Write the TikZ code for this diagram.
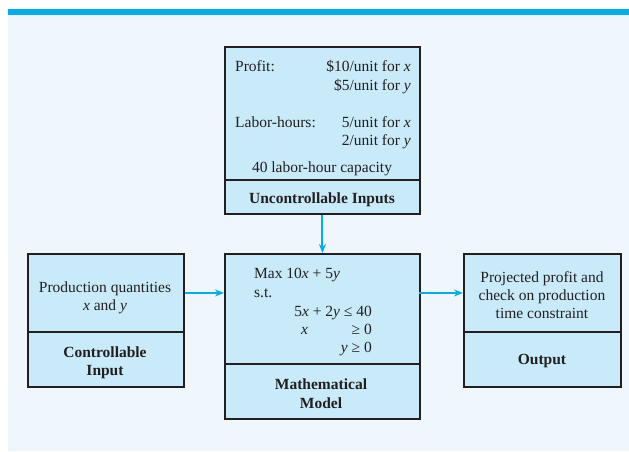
\documentclass[tikz,border=0pt]{standalone}
\usepackage{fontspec}
\setmainfont{Liberation Serif}
\usetikzlibrary{arrows.meta}
\definecolor{barblue}{RGB}{0,174,239}
\definecolor{bgblue}{RGB}{239,247,253}
\definecolor{boxblue}{RGB}{200,234,249}
\definecolor{edge}{RGB}{35,31,32}
\definecolor{txt}{RGB}{35,31,32}
\tikzset{
  part/.style={draw=edge, line width=1.9pt, fill=boxblue, anchor=north west, inner sep=0pt},
  lbl/.style={inner sep=0pt, text=txt, font=\fontsize{15.5}{18}\selectfont},
  bl/.style={lbl, anchor=base, font=\fontsize{15.5}{18}\selectfont\bfseries},
  flow/.style={draw=barblue, line width=2pt, -{Stealth[length=9pt,width=7pt]}}
}
\begin{document}
\begin{tikzpicture}[x=1pt,y=-1pt]
\useasboundingbox (0,0) rectangle (629,451);
\fill[bgblue] (8,15) rectangle (629,451);
\fill[barblue] (8,9) rectangle (629,15);
% top box
\node[part, minimum width=195pt, minimum height=133pt] (unctop) at (224,46) {};
\node[part, minimum width=195pt, minimum height=34pt] (uncbot) at (224,179) {};
% left box
\node[part, minimum width=156pt, minimum height=78pt] (ctltop) at (27,253) {};
\node[part, minimum width=156pt, minimum height=55pt] (ctlbot) at (27,331) {};
% model box
\node[part, minimum width=195pt, minimum height=110pt] (modtop) at (224,253) {};
\node[part, minimum width=195pt, minimum height=55pt] (modbot) at (224,363) {};
% right box
\node[part, minimum width=157pt, minimum height=78pt] (outtop) at (463,253) {};
\node[part, minimum width=157pt, minimum height=55pt] (outbot) at (463,331) {};
% texts top box
\node[lbl, anchor=base west] (t1) at (235,71) {Profit:};
\node[lbl, anchor=base east] (t2) at (411,71) {\$10/unit for \textit{x}};
\node[lbl, anchor=base east] (t3) at (411,90) {\$5/unit for \textit{y}};
\node[lbl, anchor=base west] (t4) at (235,127) {Labor-hours:};
\node[lbl, anchor=base east] (t5) at (411,127) {5/unit for \textit{x}};
\node[lbl, anchor=base east] (t6) at (411,145) {2/unit for \textit{y}};
\node[lbl, anchor=base] (t7) at (322,172) {40 labor-hour capacity};
\node[bl] (t8) at (322,203) {Uncontrollable Inputs};
% left texts
\node[lbl, anchor=base] (l1) at (105,292) {Production quantities};
\node[lbl, anchor=base] (l1b) at (105,310) {\textit{x} and \textit{y}};
\node[bl] (l2) at (105,357) {Controllable};
\node[bl] (l2b) at (105,375) {Input};
% model texts
\node[lbl, anchor=base west] (m1) at (254,278) {Max 10\textit{x} + 5\textit{y}};
\node[lbl, anchor=base west] (m2) at (254,297) {s.t.};
\node[lbl, anchor=base east] (m3) at (372,316) {5\textit{x} + 2\textit{y} ≤ 40};
\node[lbl, anchor=base west] (m4) at (301,334) {\textit{x}};
\node[lbl, anchor=base east] (m5) at (372,334) {≥ 0};
\node[lbl, anchor=base east] (m6) at (372,352) {\textit{y} ≥ 0};
\node[bl] (m7) at (321,389) {Mathematical};
\node[bl] (m7b) at (321,408) {Model};
% right texts
\node[lbl, anchor=base] (o1) at (542,282) {Projected profit and};
\node[lbl, anchor=base] (o1b) at (542,300) {check on production};
\node[lbl, anchor=base] (o1c) at (542,318) {time constraint};
\node[bl] (o2) at (542,364) {Output};
% arrows
\draw[flow] (uncbot.south) -- (modtop.north);
\draw[flow] (ctltop.east) -- (ctltop.east -| modtop.west);
\draw[flow] (modtop.west |- ctltop.east) ++(195,0) coordinate (mr) -- (mr -| outtop.west);
\end{tikzpicture}
\end{document}
